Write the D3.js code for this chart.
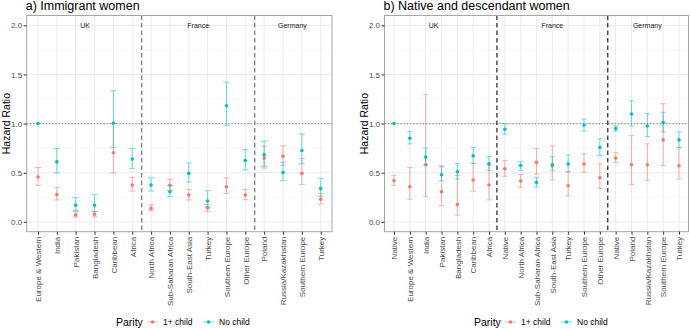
<!DOCTYPE html>
<html>
<head>
<meta charset="utf-8">
<script src="https://cdn.jsdelivr.net/npm/d3@7"></script>
<style>
  body { margin: 0; background: #fff; }
  text { font-family: "Liberation Sans", Arial, sans-serif; }
</style>
</head>
<body>
<div id="vis"></div>
<script>
// panel a) immigrant women
const CATS_A = ["Europe & Western", "India", "Pakistan", "Bangladesh", "Caribbean", "Africa",
  "North Africa", "Sub-Saharan Africa", "South-East Asia", "Turkey", "Southern Europe", "Other Europe",
  "Poland", "Russia/Kazakhstan", "Southern Europe", "Turkey"];
const NOCHILD_A    = [1.0, 0.611, 0.169, 0.169, 1.003, 0.639, 0.375, 0.307, 0.493, 0.213, 1.182, 0.625, 0.682, 0.503, 0.726, 0.338];
const NOCHILD_LO_A = [null, 0.497, 0.111, 0.105, 0.757, 0.544, 0.314, 0.257, 0.405, 0.149, 0.980, 0.530, 0.564, 0.419, 0.591, 0.260];
const NOCHILD_HI_A = [null, 0.747, 0.247, 0.277, 1.334, 0.747, 0.449, 0.372, 0.598, 0.318, 1.422, 0.736, 0.821, 0.608, 0.895, 0.443];
const ONE_A    = [0.456, 0.277, 0.071, 0.078, 0.703, 0.375, 0.139, 0.372, 0.274, 0.142, 0.358, 0.274, 0.649, 0.669, 0.493, 0.230];
const ONE_LO_A = [0.372, 0.223, 0.050, 0.050, 0.497, 0.314, 0.115, 0.318, 0.223, 0.105, 0.290, 0.226, 0.547, 0.574, 0.382, 0.182];
const ONE_HI_A = [0.554, 0.351, 0.111, 0.105, 1.000, 0.453, 0.176, 0.432, 0.331, 0.176, 0.449, 0.331, 0.770, 0.774, 0.645, 0.287];
const SEP_A = [5.5, 11.5];
const STRIP_A = [{label: "UK", at: 2.5}, {label: "France", at: 8.5}, {label: "Germany", at: 13.5}];

// panel b) native and descendant women
const CATS_B = ["Native", "Europe & Western", "India", "Pakistan", "Bangladesh", "Caribbean", "Africa",
  "Native", "North Africa", "Sub-Saharan Africa", "South-East Asia", "Turkey", "Southern Europe", "Other Europe",
  "Native", "Poland", "Russia/Kazakhstan", "Southern Europe", "Turkey"];
const NOCHILD_B    = [1.0, 0.851, 0.659, 0.480, 0.510, 0.672, 0.590, 0.943, 0.574, 0.402, 0.581, 0.588, 0.986, 0.757, 0.949, 1.098, 0.976, 1.010, 0.834];
const NOCHILD_LO_B = [null, 0.794, 0.581, 0.419, 0.436, 0.595, 0.524, 0.892, 0.524, 0.355, 0.520, 0.510, 0.926, 0.676, 0.922, 0.976, 0.868, 0.916, 0.757];
const NOCHILD_HI_B = [null, 0.919, 0.753, 0.568, 0.595, 0.757, 0.665, 1.000, 0.615, 0.453, 0.662, 0.682, 1.047, 0.845, 0.976, 1.233, 1.101, 1.115, 0.916];
const ONE_B    = [0.419, 0.358, 0.581, 0.307, 0.176, 0.426, 0.375, 0.541, 0.416, 0.605, 0.571, 0.368, 0.588, 0.449, 0.649, 0.581, 0.581, 0.834, 0.571];
const ONE_LO_B = [0.372, 0.230, 0.260, 0.166, 0.068, 0.311, 0.225, 0.463, 0.351, 0.486, 0.426, 0.264, 0.503, 0.341, 0.605, 0.382, 0.422, 0.574, 0.436];
const ONE_HI_B = [0.473, 0.554, 1.297, 0.561, 0.473, 0.595, 0.580, 0.625, 0.483, 0.747, 0.774, 0.510, 0.693, 0.591, 0.706, 0.878, 0.794, 1.203, 0.753];
const SEP_B = [6.5, 13.5];
const STRIP_B = [{label: "UK", at: 2.5}, {label: "France", at: 10}, {label: "Germany", at: 16}];

const Y_TICKS = [0, 0.5, 1, 1.5, 2];
const Y_MINOR = [0.25, 0.75, 1.25, 1.75];
const PARITY = ["1+ child", "No child"];

const RED = "#F8766D";
const TEAL = "#00BFC4";

const SVG = d3.select("#vis").append("svg")
  .attr("width", 690).attr("height", 329);

function drawPanel(opt) {
  const n = opt.cats.length;
  const X_SCALE = d3.scalePoint()
    .domain(d3.range(n))
    .range([opt.left, opt.right])
    .padding(0.6);
  const step = X_SCALE.step();
  const xAt = (i) => X_SCALE(0) + i * step;

  const Y_SCALE = d3.scaleLinear()
    .domain([-0.1, 2.1])
    .range([231.7, 15.5]);

  const g = SVG.append("g");

  // title
  g.append("text")
    .attr("x", opt.left - 1).attr("y", 10)
    .attr("font-size", 12.5).attr("fill", "#000")
    .text(opt.title);

  // grid
  g.selectAll(".minor").data(Y_MINOR).enter().append("line")
    .attr("x1", opt.left).attr("x2", opt.right)
    .attr("y1", d => Y_SCALE(d)).attr("y2", d => Y_SCALE(d))
    .attr("stroke", "#F2F2F2").attr("stroke-width", 0.5);
  g.selectAll(".major").data(Y_TICKS).enter().append("line")
    .attr("x1", opt.left).attr("x2", opt.right)
    .attr("y1", d => Y_SCALE(d)).attr("y2", d => Y_SCALE(d))
    .attr("stroke", "#EBEBEB").attr("stroke-width", 1);
  g.selectAll(".vgrid").data(d3.range(n)).enter().append("line")
    .attr("x1", d => X_SCALE(d)).attr("x2", d => X_SCALE(d))
    .attr("y1", 15.5).attr("y2", 231.7)
    .attr("stroke", "#EBEBEB").attr("stroke-width", 1);

  // reference line at 1
  g.append("line")
    .attr("x1", opt.left).attr("x2", opt.right)
    .attr("y1", Y_SCALE(1)).attr("y2", Y_SCALE(1))
    .attr("stroke", "#888").attr("stroke-width", 1.1)
    .attr("stroke-dasharray", "1.2,2");

  // country separators
  g.selectAll(".sep").data(opt.seps).enter().append("line")
    .attr("x1", d => xAt(d)).attr("x2", d => xAt(d))
    .attr("y1", 15.5).attr("y2", 231.7)
    .attr("stroke", opt.sepColor).attr("stroke-width", 1.3)
    .attr("stroke-dasharray", "4.5,3");

  // strip labels
  g.selectAll(".strip").data(opt.strips).enter().append("text")
    .attr("x", d => xAt(d.at)).attr("y", Y_SCALE(2))
    .attr("dy", "0.35em")
    .attr("text-anchor", "middle")
    .attr("font-size", 7).attr("fill", "#1A1A1A")
    .text(d => d.label);

  // error bars + points
  const series = [
    {val: opt.one, lo: opt.oneLo, hi: opt.oneHi, color: RED},
    {val: opt.no, lo: opt.noLo, hi: opt.noHi, color: TEAL}
  ];
  const capW = step * 0.16;
  series.forEach((s) => {
    const rows = d3.range(n).map((i) => ({i: i, v: s.val[i], lo: s.lo[i], hi: s.hi[i]}));
    const bars = rows.filter(d => d.lo !== null);
    const eb = g.append("g").attr("stroke", s.color).attr("stroke-width", 1.1).attr("opacity", 0.5);
    eb.selectAll(".v").data(bars).enter().append("line")
      .attr("x1", d => X_SCALE(d.i)).attr("x2", d => X_SCALE(d.i))
      .attr("y1", d => Y_SCALE(d.lo)).attr("y2", d => Y_SCALE(d.hi));
    eb.selectAll(".lo").data(bars).enter().append("line")
      .attr("x1", d => X_SCALE(d.i) - capW).attr("x2", d => X_SCALE(d.i) + capW)
      .attr("y1", d => Y_SCALE(d.lo)).attr("y2", d => Y_SCALE(d.lo));
    eb.selectAll(".hi").data(bars).enter().append("line")
      .attr("x1", d => X_SCALE(d.i) - capW).attr("x2", d => X_SCALE(d.i) + capW)
      .attr("y1", d => Y_SCALE(d.hi)).attr("y2", d => Y_SCALE(d.hi));
    g.selectAll(null).data(rows).enter().append("circle")
      .attr("cx", d => X_SCALE(d.i)).attr("cy", d => Y_SCALE(d.v))
      .attr("r", 1.8).attr("fill", s.color);
  });

  // panel border
  g.append("rect")
    .attr("x", opt.left).attr("y", 15.5)
    .attr("width", opt.right - opt.left).attr("height", 231.7 - 15.5)
    .attr("fill", "none").attr("stroke", "#A6A6A6").attr("stroke-width", 1);

  // y axis
  const yAxis = g.append("g")
    .attr("transform", "translate(" + opt.left + ",0)")
    .call(d3.axisLeft(Y_SCALE).tickValues(Y_TICKS).tickFormat(d3.format(".1f")).tickSize(3).tickPadding(1.5));
  yAxis.select(".domain").remove();
  yAxis.selectAll("line").attr("stroke", "#333");
  yAxis.selectAll("text").attr("font-size", 8).attr("fill", "#4D4D4D")
    .style("font-family", "Liberation Sans, Arial, sans-serif");

  // x axis
  const xAxis = g.append("g")
    .attr("transform", "translate(0,231.7)")
    .call(d3.axisBottom(X_SCALE).tickSize(3).tickFormat(i => opt.cats[i]));
  xAxis.select(".domain").remove();
  xAxis.selectAll("line").attr("stroke", "#333");
  xAxis.selectAll("text")
    .attr("font-size", 8).attr("fill", "#4D4D4D")
    .style("font-family", "Liberation Sans, Arial, sans-serif")
    .attr("text-anchor", "end")
    .attr("transform", "rotate(-90)")
    .attr("x", -5).attr("y", 0).attr("dy", "0.35em");

  // y title
  g.append("text")
    .attr("transform", "translate(" + opt.yTitleX + "," + ((15.5 + 231.7) / 2) + ") rotate(-90)")
    .attr("text-anchor", "middle").attr("dy", "0.35em")
    .attr("font-size", 10.5).attr("fill", "#000")
    .text("Hazard Ratio");

  // legend
  const lg = g.append("g").attr("transform", "translate(" + opt.legendX + ",322)");
  lg.append("text").attr("x", 0).attr("y", 0).attr("dy", "0.35em")
    .attr("font-size", 10.5).attr("fill", "#000").text("Parity");
  const keys = [{label: PARITY[0], color: RED, x: 31}, {label: PARITY[1], color: TEAL, x: 87}];
  keys.forEach((k) => {
    lg.append("line").attr("x1", k.x).attr("x2", k.x + 11).attr("y1", 0).attr("y2", 0)
      .attr("stroke", k.color).attr("stroke-width", 1.1).attr("opacity", 0.5);
    lg.append("circle").attr("cx", k.x + 5.5).attr("cy", 0).attr("r", 1.8).attr("fill", k.color);
    lg.append("text").attr("x", k.x + 16).attr("y", 0).attr("dy", "0.35em")
      .attr("font-size", 8.5).attr("fill", "#000").text(k.label);
  });
}

drawPanel({
  title: "a) Immigrant women",
  cats: CATS_A, no: NOCHILD_A, noLo: NOCHILD_LO_A, noHi: NOCHILD_HI_A,
  one: ONE_A, oneLo: ONE_LO_A, oneHi: ONE_HI_A,
  seps: SEP_A, strips: STRIP_A, sepColor: "#7F7F7F",
  left: 26.7, right: 332, yTitleX: 6.5, legendX: 116
});

drawPanel({
  title: "b) Native and descendant women",
  cats: CATS_B, no: NOCHILD_B, noLo: NOCHILD_LO_B, noHi: NOCHILD_HI_B,
  one: ONE_B, oneLo: ONE_LO_B, oneHi: ONE_HI_B,
  seps: SEP_B, strips: STRIP_B, sepColor: "#333333",
  left: 384.5, right: 688.5, yTitleX: 364, legendX: 474
});
</script>
</body>
</html>
